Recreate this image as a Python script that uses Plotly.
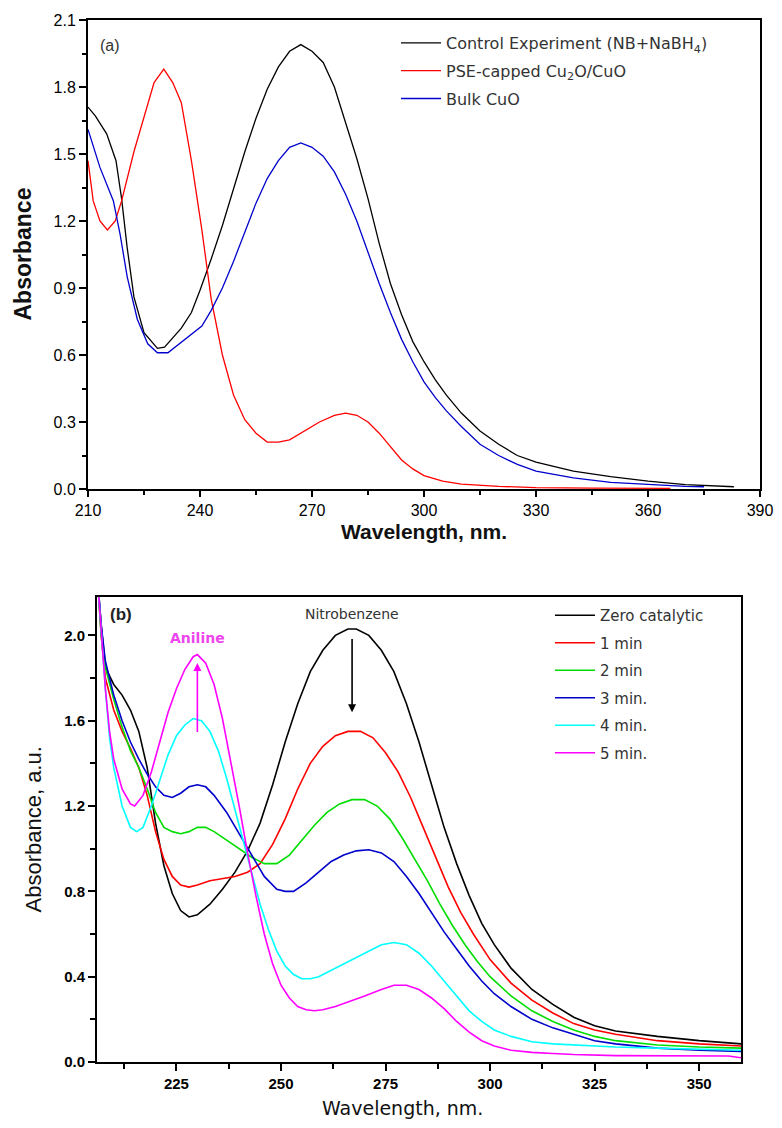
import plotly.graph_objects as go

# page has an 8px body margin: figure is sized to fit inside the 782x1128 window
PAGE_W, PAGE_H, OFF = 782, 1128, 8
W, H = PAGE_W - 2 * OFF, PAGE_H - 2 * OFF

# ---------------- Panel (a) data ----------------
a_ctrl_x = [210, 212, 215, 217.5, 219, 220.5, 222.3, 225, 228.6, 230.5, 235, 237.7, 240, 243, 246, 249, 252, 255, 258, 261, 264, 267, 270, 273, 276, 279, 282, 285, 288, 291, 294, 297, 300, 303, 306, 310, 315, 320, 325, 330, 340, 350, 360, 370, 383]
a_ctrl_y = [1.71, 1.67, 1.59, 1.47, 1.30, 1.08, 0.86, 0.70, 0.63, 0.635, 0.72, 0.79, 0.89, 1.03, 1.18, 1.35, 1.51, 1.66, 1.79, 1.89, 1.96, 1.99, 1.96, 1.91, 1.80, 1.64, 1.48, 1.30, 1.10, 0.92, 0.78, 0.66, 0.57, 0.49, 0.42, 0.34, 0.26, 0.20, 0.15, 0.12, 0.08, 0.055, 0.035, 0.02, 0.01]

a_pse_x = [210, 211.4, 213.2, 215.2, 217.3, 219, 222.3, 225, 227.7, 230.3, 232.7, 235, 237.7, 240.5, 243, 246, 249, 252, 255, 258, 261, 264, 268, 272, 276, 279, 282, 285, 288, 291, 294, 297, 300, 305, 310, 320, 330, 345, 366]
a_pse_y = [1.47, 1.29, 1.20, 1.16, 1.20, 1.29, 1.51, 1.67, 1.82, 1.88, 1.82, 1.73, 1.47, 1.16, 0.85, 0.60, 0.42, 0.31, 0.25, 0.21, 0.21, 0.22, 0.26, 0.30, 0.33, 0.34, 0.33, 0.30, 0.25, 0.19, 0.13, 0.09, 0.06, 0.035, 0.022, 0.012, 0.006, 0.004, 0.003]

a_bulk_x = [210, 213.2, 216.8, 218.6, 220.5, 223.2, 226, 228.6, 231.4, 236.8, 240.5, 243, 246, 249, 252, 255, 258, 261, 264, 267, 270, 273, 276, 279, 282, 285, 288, 291, 294, 297, 300, 303, 306, 310, 315, 320, 325, 330, 340, 350, 360, 370, 375]
a_bulk_y = [1.61, 1.44, 1.29, 1.14, 0.95, 0.76, 0.65, 0.61, 0.61, 0.68, 0.73, 0.80, 0.90, 1.02, 1.15, 1.28, 1.39, 1.47, 1.53, 1.55, 1.53, 1.49, 1.42, 1.32, 1.20, 1.06, 0.92, 0.79, 0.67, 0.57, 0.48, 0.41, 0.35, 0.28, 0.20, 0.15, 0.11, 0.08, 0.05, 0.03, 0.02, 0.012, 0.01]

a_names = ["Control Experiment (NB+NaBH<sub>4</sub>)", "PSE-capped Cu<sub>2</sub>O/CuO", "Bulk CuO"]
a_colors = ["#000000", "#ff0000", "#0000cc"]

a_xticks = [210, 240, 270, 300, 330, 360, 390]
a_yticks = [0.0, 0.3, 0.6, 0.9, 1.2, 1.5, 1.8, 2.1]

# ---------------- Panel (b) data ----------------
b_zero_x = [206, 207, 208, 210, 212, 214, 216, 218, 220, 222, 224, 226, 228, 230, 233, 236, 239, 242, 245, 248, 251, 254, 257, 260, 263, 266, 268, 271, 274, 277, 280, 283, 286, 289, 292, 295, 298, 301, 305, 310, 315, 320, 325, 330, 340, 350, 360]
b_zero_y = [2.30, 2.05, 1.85, 1.77, 1.72, 1.65, 1.55, 1.38, 1.12, 0.92, 0.79, 0.71, 0.68, 0.69, 0.74, 0.81, 0.89, 0.99, 1.12, 1.30, 1.50, 1.68, 1.83, 1.93, 2.00, 2.03, 2.03, 2.00, 1.93, 1.83, 1.68, 1.50, 1.30, 1.10, 0.93, 0.78, 0.65, 0.55, 0.44, 0.34, 0.27, 0.21, 0.17, 0.145, 0.12, 0.10, 0.085]

b_1_x = [206, 207, 208, 210, 212, 214, 216, 218, 220, 222, 224, 226, 228, 230, 233, 236, 239, 242, 245, 248, 251, 254, 257, 260, 263, 266, 269, 272, 275, 278, 281, 284, 287, 290, 293, 296, 300, 305, 310, 315, 320, 325, 330, 340, 350, 360]
b_1_y = [2.30, 2.00, 1.80, 1.65, 1.55, 1.47, 1.38, 1.25, 1.08, 0.95, 0.87, 0.83, 0.82, 0.83, 0.85, 0.86, 0.87, 0.89, 0.93, 1.02, 1.14, 1.28, 1.40, 1.48, 1.53, 1.55, 1.55, 1.52, 1.45, 1.36, 1.24, 1.10, 0.96, 0.82, 0.70, 0.60, 0.48, 0.37, 0.29, 0.23, 0.18, 0.15, 0.13, 0.10, 0.085, 0.075]

b_2_x = [206, 207, 208, 210, 212, 214, 216, 218, 220, 222, 224, 226, 228, 230, 232, 234, 237, 240, 243, 246, 249, 252, 255, 258, 261, 264, 267, 270, 273, 276, 279, 282, 285, 288, 291, 294, 297, 300, 305, 310, 315, 320, 325, 330, 340, 350, 360]
b_2_y = [2.30, 2.00, 1.85, 1.70, 1.57, 1.46, 1.38, 1.28, 1.17, 1.10, 1.08, 1.07, 1.08, 1.10, 1.10, 1.08, 1.04, 1.00, 0.96, 0.93, 0.93, 0.97, 1.04, 1.11, 1.17, 1.21, 1.23, 1.23, 1.20, 1.14, 1.05, 0.95, 0.85, 0.74, 0.64, 0.55, 0.47, 0.40, 0.31, 0.24, 0.19, 0.15, 0.12, 0.10, 0.08, 0.07, 0.065]

b_3_x = [206, 207, 208, 210, 212, 214, 216, 218, 220, 222, 224, 226, 228, 230, 232, 234, 237, 240, 243, 246, 249, 251, 253, 256, 259, 262, 265, 268, 271, 274, 277, 280, 283, 286, 289, 292, 295, 298, 301, 305, 310, 315, 320, 325, 330, 340, 350, 360]
b_3_y = [2.30, 2.05, 1.88, 1.72, 1.60, 1.50, 1.42, 1.35, 1.29, 1.25, 1.24, 1.26, 1.29, 1.30, 1.29, 1.25, 1.17, 1.07, 0.97, 0.87, 0.81, 0.80, 0.80, 0.84, 0.89, 0.94, 0.97, 0.99, 0.995, 0.98, 0.94, 0.87, 0.79, 0.70, 0.61, 0.53, 0.45, 0.38, 0.32, 0.26, 0.20, 0.16, 0.13, 0.10, 0.085, 0.065, 0.055, 0.05]

b_4_x = [206, 207, 208, 209, 210, 212, 214, 215.5, 217, 219, 221, 223, 225, 227, 229, 231, 233, 235, 237, 239, 241, 243, 245, 247, 249, 251, 253, 255, 257, 259, 262, 265, 268, 271, 274, 277, 280, 283, 286, 289, 292, 295, 298, 301, 305, 310, 315, 320, 330, 340, 350, 360]
b_4_y = [2.30, 2.00, 1.75, 1.52, 1.38, 1.20, 1.10, 1.08, 1.10, 1.20, 1.32, 1.44, 1.53, 1.58, 1.61, 1.60, 1.55, 1.46, 1.33, 1.18, 1.03, 0.88, 0.74, 0.62, 0.52, 0.45, 0.41, 0.39, 0.39, 0.40, 0.43, 0.46, 0.49, 0.52, 0.55, 0.56, 0.55, 0.51, 0.45, 0.38, 0.31, 0.24, 0.19, 0.15, 0.12, 0.095, 0.085, 0.08, 0.07, 0.065, 0.06, 0.055]

b_5_x = [206, 207, 208, 209, 210, 212, 214, 215, 217, 219, 221, 223, 225, 227, 229, 230, 232, 234, 236, 238, 240, 242, 244, 246, 248, 250, 252, 254, 256, 258, 260, 263, 266, 270, 274, 277, 280, 283, 286, 289, 292, 295, 298, 301, 305, 310, 315, 320, 330, 340, 350, 357, 360]
b_5_y = [2.30, 2.00, 1.75, 1.55, 1.42, 1.28, 1.21, 1.20, 1.25, 1.36, 1.50, 1.64, 1.75, 1.84, 1.90, 1.91, 1.87, 1.77, 1.61, 1.41, 1.20, 0.98, 0.78, 0.60, 0.46, 0.36, 0.30, 0.26, 0.245, 0.24, 0.245, 0.26, 0.28, 0.31, 0.34, 0.36, 0.36, 0.34, 0.30, 0.25, 0.19, 0.14, 0.10, 0.075, 0.055, 0.045, 0.04, 0.035, 0.03, 0.03, 0.028, 0.028, 0.02]

b_names = ["Zero catalytic", "1 min", "2 min", "3 min.", "4 min.", "5 min."]
b_colors = ["#000000", "#ff0000", "#00dd00", "#0000cc", "#00ffff", "#ff00ff"]

b_xticks = [225, 250, 275, 300, 325, 350]
b_yticks = [0.0, 0.4, 0.8, 1.2, 1.6, 2.0]

# ---------------- geometry (page pixels) ----------------
A_L, A_R, A_T, A_B = 88, 760, 20, 489
B_L, B_R, B_T, B_B = 97, 741, 597, 1062

def px_x(p):
    return (p - OFF) / W

def px_y(p):
    return 1 - (p - OFF) / H

FONT = "Liberation Sans, Arial, sans-serif"
WIDE = "DejaVu Sans, Verdana, sans-serif"

fig = go.Figure()

a_series = [(a_ctrl_x, a_ctrl_y), (a_pse_x, a_pse_y), (a_bulk_x, a_bulk_y)]
for i, ((xs, ys), name, col) in enumerate(zip(a_series, a_names, a_colors)):
    fig.add_trace(go.Scatter(x=xs, y=ys, mode="lines", name=name,
                             line=dict(color=col, width=1.3),
                             xaxis="x", yaxis="y", legend="legend",
                             legendgroup=f"a{i}"))

b_series = [(b_zero_x, b_zero_y), (b_1_x, b_1_y), (b_2_x, b_2_y),
            (b_3_x, b_3_y), (b_4_x, b_4_y), (b_5_x, b_5_y)]
for i, ((xs, ys), name, col) in enumerate(zip(b_series, b_names, b_colors)):
    fig.add_trace(go.Scatter(x=xs, y=ys, mode="lines", name=name,
                             line=dict(color=col, width=1.6),
                             xaxis="x2", yaxis="y2", legend="legend2",
                             legendgroup=f"b{i}"))

axis_common = dict(showline=True, linecolor="black", linewidth=2, mirror=True,
                   ticks="outside", tickwidth=1.5, tickcolor="black",
                   showgrid=False, zeroline=False, automargin=False)

fig.update_layout(
    template="none",
    width=W, height=H,
    margin=dict(l=0, r=0, t=0, b=0, autoexpand=False),
    paper_bgcolor="white", plot_bgcolor="white",
    font=dict(family=FONT, color="black"),
    xaxis=dict(domain=[px_x(A_L), px_x(A_R)], range=[210, 390], anchor="y",
               tickvals=a_xticks, ticktext=[str(v) for v in a_xticks],
               tickfont=dict(size=16, family=FONT), ticklen=6,
               minor=dict(dtick=15, tick0=210, ticks="outside", ticklen=4, tickcolor="black", tickwidth=1.5),
               **axis_common),
    yaxis=dict(domain=[px_y(A_B), px_y(A_T)], range=[0, 2.1], anchor="x",
               tickvals=a_yticks, ticktext=[f"{v:.1f}" for v in a_yticks],
               tickfont=dict(size=16, family=FONT), ticklen=7,
               minor=dict(dtick=0.15, tick0=0, ticks="outside", ticklen=4, tickcolor="black", tickwidth=1.5),
               **axis_common),
    xaxis2=dict(domain=[px_x(B_L), px_x(B_R)], range=[206, 360], anchor="y2",
                tickvals=b_xticks, ticktext=[str(v) for v in b_xticks],
                tickfont=dict(size=15, family=FONT, weight="bold"), ticklen=7,
                minor=dict(dtick=12.5, tick0=200, ticks="outside", ticklen=5, tickcolor="black", tickwidth=1.5),
                **axis_common),
    yaxis2=dict(domain=[px_y(B_B), px_y(B_T)], range=[0, 2.18], anchor="x2",
                tickvals=b_yticks, ticktext=[f"{v:.1f}" for v in b_yticks],
                tickfont=dict(size=15, family=FONT, weight="bold"), ticklen=7,
                minor=dict(dtick=0.2, tick0=0, ticks="outside", ticklen=5, tickcolor="black", tickwidth=1.5),
                **axis_common),
    legend=dict(x=px_x(396), y=px_y(26), xanchor="left", yanchor="top",
                bgcolor="rgba(0,0,0,0)", borderwidth=0,
                font=dict(size=16, family=WIDE, color="#333333"),
                tracegroupgap=4, itemwidth=40),
    legend2=dict(x=px_x(550), y=px_y(599), xanchor="left", yanchor="top",
                 bgcolor="rgba(0,0,0,0)", borderwidth=0,
                 font=dict(size=15, family=WIDE, color="#333333"),
                 tracegroupgap=5, itemwidth=40),
    showlegend=True,
)

annots = [
    # panel labels
    dict(text="(a)", x=px_x(98), y=px_y(45), xref="paper", yref="paper",
         xanchor="left", yanchor="middle", showarrow=False,
         font=dict(size=16, family=FONT, color="#333333")),
    dict(text="(b)", x=px_x(108), y=px_y(614), xref="paper", yref="paper",
         xanchor="left", yanchor="middle", showarrow=False,
         font=dict(size=17, family=FONT, color="#222222", weight="bold")),
    # axis titles
    dict(text="<b>Wavelength, nm.</b>", x=px_x((A_L + A_R) / 2), y=px_y(531), xref="paper", yref="paper",
         xanchor="center", yanchor="middle", showarrow=False,
         font=dict(size=21, family=FONT, color="#111111")),
    dict(text="<b>Absorbance</b>", x=px_x(22), y=px_y((A_T + A_B) / 2), xref="paper", yref="paper",
         xanchor="center", yanchor="middle", showarrow=False, textangle=-90,
         font=dict(size=23, family=FONT, color="#111111")),
    dict(text="Wavelength, nm.", x=px_x(402), y=px_y(1108), xref="paper", yref="paper",
         xanchor="center", yanchor="middle", showarrow=False,
         font=dict(size=19, family=WIDE, color="#111111")),
    dict(text="Absorbance, a.u.", x=px_x(33), y=px_y((B_T + B_B) / 2), xref="paper", yref="paper",
         xanchor="center", yanchor="middle", showarrow=False, textangle=-90,
         font=dict(size=22, family=FONT, color="#111111")),
    # in-plot labels
    dict(text="Nitrobenzene", x=267, y=2.10, xref="x2", yref="y2",
         showarrow=False, font=dict(size=14, family=WIDE, color="#333333")),
    dict(text="Aniline", x=230, y=1.99, xref="x2", yref="y2",
         showarrow=False, font=dict(size=14, family=WIDE, color="#ee44ee", weight="bold")),
    # arrows
    dict(text="", x=267, y=1.64, ax=267, ay=1.99, xref="x2", yref="y2",
         axref="x2", ayref="y2", showarrow=True, arrowhead=2, arrowsize=1,
         arrowwidth=1.6, arrowcolor="black"),
    dict(text="", x=230, y=1.87, ax=230, ay=1.54, xref="x2", yref="y2",
         axref="x2", ayref="y2", showarrow=True, arrowhead=2, arrowsize=1,
         arrowwidth=1.6, arrowcolor="#ff00ff"),
]
fig.update_layout(annotations=annots)

fig.write_html("out.html")
